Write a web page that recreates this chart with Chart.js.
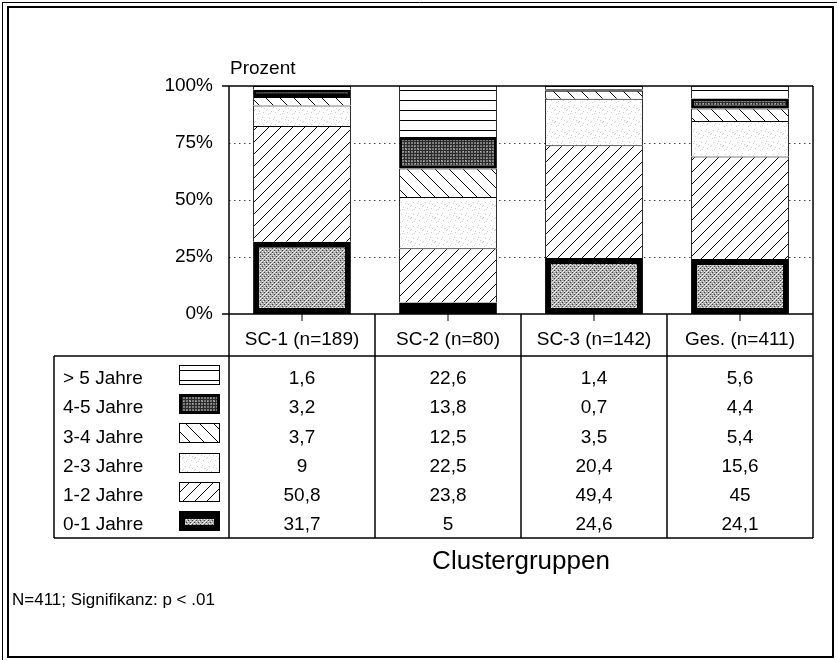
<!DOCTYPE html>
<html>
<head>
<meta charset="utf-8">
<script src="https://cdn.jsdelivr.net/npm/chart.js@4.4.1/dist/chart.umd.min.js"></script>
<style>
  html, body { margin: 0; padding: 0; background: #fff; }
  #wrap { width: 837px; height: 660px; position: relative; }
</style>
</head>
<body>
<div id="wrap"><canvas id="chart"></canvas></div>
<script>
// Data
const CATEGORIES = ['SC-1 (n=189)', 'SC-2 (n=80)', 'SC-3 (n=142)', 'Ges. (n=411)'];
const SERIES_NAMES = ['0-1 Jahre', '1-2 Jahre', '2-3 Jahre', '3-4 Jahre', '4-5 Jahre', '> 5 Jahre'];
const Y01 = [31.7, 5, 24.6, 24.1];
const Y12 = [50.8, 23.8, 49.4, 45];
const Y23 = [9, 22.5, 20.4, 15.6];
const Y34 = [3.7, 12.5, 3.5, 5.4];
const Y45 = [3.2, 13.8, 0.7, 4.4];
const Y5P = [1.6, 22.6, 1.4, 5.6];
const Y_TICKS = [0, 25, 50, 75, 100];
const TABLE_LABELS = ['N=411; Signifikanz: p < .01', 'Clustergruppen', 'Prozent'];

const FONT = '"Liberation Sans", Arial, Helvetica, sans-serif';

// Pattern tiles
function makeHatch(size, dir) {
    const c = document.createElement('canvas');
    c.width = c.height = size;
    const g = c.getContext('2d');
    g.fillStyle = '#fff';
    g.fillRect(0, 0, size, size);
    g.strokeStyle = '#000';
    g.lineWidth = 1;
    g.beginPath();
    if (dir === '/') {
        g.moveTo(0, size); g.lineTo(size, 0);
        g.moveTo(-1, 1); g.lineTo(1, -1);
        g.moveTo(size - 1, size + 1); g.lineTo(size + 1, size - 1);
    } else if (dir === '\\') {
        g.moveTo(0, 0); g.lineTo(size, size);
        g.moveTo(-1, size - 1); g.lineTo(1, size + 1);
        g.moveTo(size - 1, -1); g.lineTo(size + 1, 1);
    } else {
        g.moveTo(0, 0.5); g.lineTo(size, 0.5);
    }
    g.stroke();
    return g.createPattern(c, 'repeat');
}

function makeStipple(bg, dark, light, darkMod, lightMod) {
    const size = 12;
    const c = document.createElement('canvas');
    c.width = c.height = size;
    const g = c.getContext('2d');
    g.fillStyle = bg;
    g.fillRect(0, 0, size, size);
    for (let x = 0; x < size; x++) {
        for (let y = 0; y < size; y++) {
            if (dark && (x * 3 + y * 7 + x * y) % darkMod === 0) {
                g.fillStyle = dark; g.fillRect(x, y, 1, 1);
            } else if (light && (x * 5 + y * 2 + x * y * 3) % lightMod === 0) {
                g.fillStyle = light; g.fillRect(x, y, 1, 1);
            }
        }
    }
    return g.createPattern(c, 'repeat');
}

const PAT_01 = makeStipple('#aaaaaa', '#444', '#eee', 4, 6);
const PAT_12 = makeHatch(12, '/');
const PAT_23 = makeStipple('#fff', null, '#cfcfcf', 1, 13);
const PAT_34 = makeHatch(14, '\\');
const PAT_45 = makeStipple('#7a7a7a', '#2a2a2a', '#b4b4b4', 3, 7);
const PAT_5P = makeHatch(10, '-');

const THIN = { top: 1, left: 1, right: 1, bottom: 0 };

const datasets = [
    { label: SERIES_NAMES[0], data: Y01, backgroundColor: PAT_01, borderColor: '#000', borderWidth: 6 },
    { label: SERIES_NAMES[1], data: Y12, backgroundColor: PAT_12, borderColor: '#000', borderWidth: THIN },
    { label: SERIES_NAMES[2], data: Y23, backgroundColor: PAT_23, borderColor: '#000', borderWidth: THIN },
    { label: SERIES_NAMES[3], data: Y34, backgroundColor: PAT_34, borderColor: '#000', borderWidth: THIN },
    { label: SERIES_NAMES[4], data: Y45, backgroundColor: PAT_45, borderColor: '#000', borderWidth: 3 },
    { label: SERIES_NAMES[5], data: Y5P, backgroundColor: PAT_5P, borderColor: '#000', borderWidth: THIN }
].map(d => Object.assign(d, { borderSkipped: false, barPercentage: 0.67, categoryPercentage: 1, inflateAmount: 0 }));

// Table and decorations
const tablePlugin = {
    id: 'tablePlugin',
    beforeDraw(chart) {
        const ctx = chart.ctx;
        ctx.save();
        ctx.fillStyle = '#fff';
        ctx.fillRect(0, 0, chart.width, chart.height);
        ctx.restore();
    },
    beforeDatasetsDraw(chart) {
        const { ctx, chartArea: a, scales: { y } } = chart;
        ctx.save();
        ctx.strokeStyle = '#444';
        ctx.lineWidth = 1;
        ctx.setLineDash([1.5, 3.5]);
        Y_TICKS.slice(1, -1).forEach(t => {
            const py = Math.round(y.getPixelForValue(t)) + 0.5;
            ctx.beginPath();
            ctx.moveTo(a.left, py);
            ctx.lineTo(a.right, py);
            ctx.stroke();
        });
        ctx.restore();
    },
    afterDatasetsDraw(chart) {
        const { ctx, chartArea: a, scales: { x } } = chart;
        const headBottom = a.bottom + 42;
        const tableBottom = a.bottom + 224;
        const tableLeft = 54;
        const rowTop = a.bottom + 51;
        const rowStep = 29.2;
        const half = (x.getPixelForValue(1) - x.getPixelForValue(0)) / 2;

        ctx.save();
        ctx.strokeStyle = '#000';
        ctx.lineWidth = 1.5;
        const line = (x1, y1, x2, y2) => {
            ctx.beginPath(); ctx.moveTo(x1, y1); ctx.lineTo(x2, y2); ctx.stroke();
        };
        // plot frame
        line(a.left - 7, a.top, a.right, a.top);
        line(a.left - 7, a.bottom, a.right, a.bottom);
        line(a.left, a.top, a.left, tableBottom);
        line(a.right, a.top, a.right, tableBottom);
        // table
        line(tableLeft, headBottom, a.right, headBottom);
        line(tableLeft, tableBottom, a.right, tableBottom);
        line(tableLeft, headBottom, tableLeft, tableBottom);
        CATEGORIES.forEach((c, i) => {
            const cx = x.getPixelForValue(i);
            if (i > 0) line(cx - half, a.bottom, cx - half, tableBottom);
            ctx.lineWidth = 1;
            line(cx, a.bottom, cx, a.bottom + 7);
            ctx.lineWidth = 1.5;
        });

        // text
        ctx.fillStyle = '#000';
        ctx.font = '19px ' + FONT;
        ctx.textBaseline = 'middle';
        ctx.textAlign = 'center';
        CATEGORIES.forEach((c, i) => ctx.fillText(c, x.getPixelForValue(i), a.bottom + 26));

        const rows = [
            [SERIES_NAMES[5], Y5P, PAT_5P],
            [SERIES_NAMES[4], Y45, PAT_45],
            [SERIES_NAMES[3], Y34, PAT_34],
            [SERIES_NAMES[2], Y23, PAT_23],
            [SERIES_NAMES[1], Y12, PAT_12],
            [SERIES_NAMES[0], Y01, PAT_01]
        ];
        rows.forEach(([name, vals, pat], r) => {
            const ty = rowTop + 14 + r * rowStep;
            ctx.textAlign = 'left';
            ctx.fillText(name, 63, ty);
            ctx.textAlign = 'center';
            vals.forEach((v, i) => ctx.fillText(String(v).replace('.', ','), x.getPixelForValue(i), ty));

            // swatch
            const sx = 179, sy = Math.round(rowTop + r * rowStep), sw = 41, sh = 20;
            if (r === 5) {
                ctx.fillStyle = '#000';
                ctx.fillRect(sx, sy, sw, sh);
                ctx.fillStyle = pat;
                ctx.fillRect(sx + 6, sy + 8, sw - 12, sh - 14);
            } else if (r === 1) {
                ctx.fillStyle = '#000';
                ctx.fillRect(sx, sy, sw, sh);
                ctx.fillStyle = pat;
                ctx.fillRect(sx + 3, sy + 3, sw - 6, sh - 6);
            } else {
                ctx.fillStyle = pat;
                ctx.fillRect(sx, sy, sw, sh);
                ctx.lineWidth = 1;
                ctx.strokeRect(sx + 0.5, sy + 0.5, sw - 1, sh - 1);
                ctx.lineWidth = 1.5;
            }
            ctx.fillStyle = '#000';
        });

        ctx.textAlign = 'left';
        ctx.font = '19px ' + FONT;
        ctx.fillText(TABLE_LABELS[2], a.left + 1, a.top - 17);

        ctx.textAlign = 'center';
        ctx.font = '26px ' + FONT;
        ctx.fillText(TABLE_LABELS[1], (a.left + a.right) / 2, 562);

        ctx.textAlign = 'left';
        ctx.font = '17px ' + FONT;
        ctx.fillText(TABLE_LABELS[0], 12, 600);

        // outer frame
        ctx.lineWidth = 2;
        ctx.strokeRect(8, 7, 825, 650);
        ctx.lineWidth = 1;
        line(2.5, 2, 2.5, 660);
        line(2, 2.5, 837, 2.5);
        ctx.restore();
    }
};

new Chart(document.getElementById('chart'), {
    type: 'bar',
    data: { labels: CATEGORIES, datasets },
    plugins: [tablePlugin],
    options: {
        responsive: true,
        maintainAspectRatio: false,
        animation: false,
        layout: { padding: { top: 86, right: 24, bottom: 346, left: 0 } },
        plugins: { legend: { display: false }, tooltip: { enabled: false } },
        scales: {
            x: { stacked: true, display: false },
            y: {
                stacked: true,
                min: 0,
                max: 100,
                afterFit: s => { s.width = 229; },
                grid: { display: false, drawTicks: false },
                border: { display: false },
                ticks: {
                    stepSize: 25,
                    padding: 16,
                    color: '#000',
                    font: { size: 19, family: FONT },
                    callback: v => v + '%'
                }
            }
        }
    }
});
</script>
</body>
</html>
